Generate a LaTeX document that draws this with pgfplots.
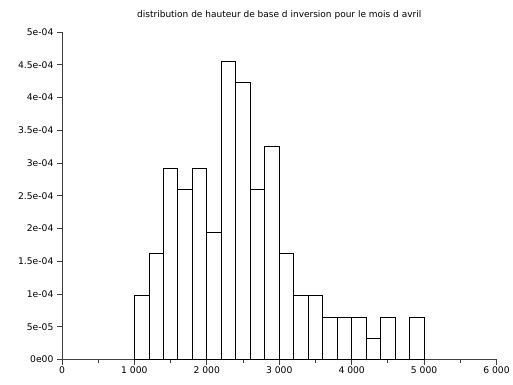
\documentclass[border=0pt]{standalone}
\usepackage{fontspec}
\setmainfont{DejaVu Sans}
\usepackage{pgfplots}
\pgfplotsset{compat=1.18}
\begin{document}
\begin{tikzpicture}[font=\fontsize{9}{11}\selectfont]
\begin{axis}[
  scale only axis, width=435pt, height=328pt,
  xmin=0, xmax=6000, ymin=0, ymax=5e-4,
  axis lines*=left,
  axis line style={black!75, line width=0.8pt},
  tick align=outside,
  major tick length=5pt, minor tick length=3pt,
  every tick/.style={black!75, line width=0.8pt},
  xtick={0,1000,2000,3000,4000,5000,6000},
  xticklabels={0,1 000,2 000,3 000,4 000,5 000,6 000},
  minor xtick={500,1500,2500,3500,4500,5500},
  ytick={0,5e-5,1e-4,1.5e-4,2e-4,2.5e-4,3e-4,3.5e-4,4e-4,4.5e-4,5e-4},
  yticklabels={0e00,5e-05,1e-04,1.5e-04,2e-04,2.5e-04,3e-04,3.5e-04,4e-04,4.5e-04,5e-04},
  scaled y ticks=false,
  tick label style={font=\fontsize{9.2}{11}\selectfont},
  xticklabel style={yshift=1.5pt},
  title={distribution de hauteur de base d inversion pour le mois d avril},
  title style={font=\fontsize{9}{11}\selectfont, at={(0.5,1)}, anchor=base, yshift=8pt},
  clip=false,
]
\addplot[ybar interval, draw=black, fill=white, line width=0.7pt] coordinates {
  (1000,9.75e-5) (1200,1.625e-4) (1400,2.925e-4) (1600,2.6e-4) (1800,2.925e-4)
  (2000,1.95e-4) (2200,4.55e-4) (2400,4.225e-4) (2600,2.6e-4) (2800,3.25e-4)
  (3000,1.625e-4) (3200,9.75e-5) (3400,9.75e-5) (3600,6.5e-5) (3800,6.5e-5)
  (4000,6.5e-5) (4200,3.25e-5) (4400,6.5e-5) (4600,0) (4800,6.5e-5) (5000,0)
};
\end{axis}
\path[use as bounding box] ([xshift=-62pt,yshift=-25pt]current axis.south west) rectangle ([xshift=16pt,yshift=32pt]current axis.north east);
\end{tikzpicture}
\end{document}
